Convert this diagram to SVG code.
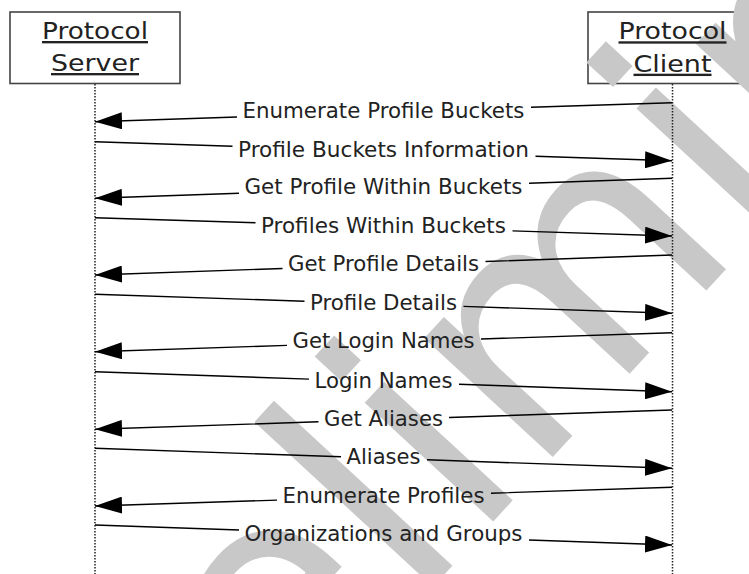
<svg xmlns="http://www.w3.org/2000/svg" width="749" height="574" viewBox="0 0 749 574">
<defs>
<style>
.wm{font-family:"DejaVu Sans","Verdana",sans-serif;font-size:100px;fill:#c8c8c8}
.box{fill:#fff;stroke:#444;stroke-width:1.6}
.hd{font-family:"DejaVu Sans","Verdana",sans-serif;font-size:23.5px;fill:#222;text-anchor:middle;text-decoration:underline}
.life{stroke:#222;stroke-width:1.5;stroke-dasharray:1.5 1.5;fill:none}
.msg{stroke:#000;stroke-width:1.4;fill:none;marker-end:url(#ah)}
.lbl{font-family:"DejaVu Sans","Verdana",sans-serif;font-size:20.5px;fill:#222;text-anchor:middle}
</style>
<marker id="ah" markerUnits="userSpaceOnUse" viewBox="0 0 27 17" refX="27" refY="8.5" markerWidth="27" markerHeight="17" orient="auto">
<path d="M0,0 L27,8.5 L0,17 Z" fill="#000"/>
</marker>
</defs>
<rect width="749" height="574" fill="#fff"/>
<g id="server">
<rect class="box" x="10" y="12" width="170" height="71.5"/>
<text class="hd" x="95" y="39" textLength="106" lengthAdjust="spacingAndGlyphs">Protocol</text>
<text class="hd" x="95" y="71" textLength="88" lengthAdjust="spacingAndGlyphs">Server</text>
<line class="life" x1="95" y1="84" x2="95" y2="574"/>
</g>
<g id="client">
<rect class="box" x="588" y="12" width="170" height="71.5"/>
</g>
<g id="watermark">
<text class="wm" transform="matrix(2.17,-2.35,2.35,2.17,67.5,982.5)">Preliminary</text>
</g>
<g id="client-text">
<text class="hd" x="672.5" y="39.3" textLength="108" lengthAdjust="spacingAndGlyphs">Protocol</text>
<text class="hd" x="672.5" y="71.7" textLength="78" lengthAdjust="spacingAndGlyphs">Client</text>
<line class="life" x1="672.5" y1="84" x2="672.5" y2="574"/>
</g>
<g id="connectors">
<path class="msg" d="M672,102.7 L531,107.3 M237,117 L95,121.7"/>
<path class="msg" d="M95,141.7 L232.5,146.2 M535.5,156.2 L672,160.7"/>
<path class="msg" d="M672,178.3 L529,183.3 M239,193.3 L95,198.3"/>
<path class="msg" d="M95,217.7 L255.5,222.8 M512.5,230.9 L672,236"/>
<path class="msg" d="M672,255 L485.5,261.5 M282.5,268.5 L95,275"/>
<path class="msg" d="M95,294.3 L304.5,301.2 M463.5,306.4 L672,313.3"/>
<path class="msg" d="M672,332.7 L481,339 M287,345.4 L95,351.7"/>
<path class="msg" d="M95,371.7 L309,379.1 M459,384.3 L672,391.7"/>
<path class="msg" d="M672,410 L449,417.5 M318.5,421.8 L95,429.3"/>
<path class="msg" d="M95,448.3 L341,456.8 M427,459.8 L672,468.3"/>
<path class="msg" d="M672,487.3 L491,493.2 M277,500.1 L95,506"/>
<path class="msg" d="M95,525 L239,530 M529,540 L672,545"/>
<text class="lbl" x="383.5" y="118.2" textLength="282" lengthAdjust="spacingAndGlyphs">Enumerate Profile Buckets</text>
<text class="lbl" x="383.5" y="157.2" textLength="291" lengthAdjust="spacingAndGlyphs">Profile Buckets Information</text>
<text class="lbl" x="383.5" y="194.3" textLength="278" lengthAdjust="spacingAndGlyphs">Get Profile Within Buckets</text>
<text class="lbl" x="383.5" y="232.9" textLength="245" lengthAdjust="spacingAndGlyphs">Profiles Within Buckets</text>
<text class="lbl" x="383.5" y="271" textLength="191" lengthAdjust="spacingAndGlyphs">Get Profile Details</text>
<text class="lbl" x="383.5" y="309.8" textLength="147" lengthAdjust="spacingAndGlyphs">Profile Details</text>
<text class="lbl" x="383.5" y="348.2" textLength="182" lengthAdjust="spacingAndGlyphs">Get Login Names</text>
<text class="lbl" x="383.5" y="387.7" textLength="138" lengthAdjust="spacingAndGlyphs">Login Names</text>
<text class="lbl" x="383.5" y="425.7" textLength="119" lengthAdjust="spacingAndGlyphs">Get Aliases</text>
<text class="lbl" x="383.5" y="464.3" textLength="74" lengthAdjust="spacingAndGlyphs">Aliases</text>
<text class="lbl" x="383.5" y="502.7" textLength="202" lengthAdjust="spacingAndGlyphs">Enumerate Profiles</text>
<text class="lbl" x="383.5" y="541" textLength="278" lengthAdjust="spacingAndGlyphs">Organizations and Groups</text>
</g>
</svg>
